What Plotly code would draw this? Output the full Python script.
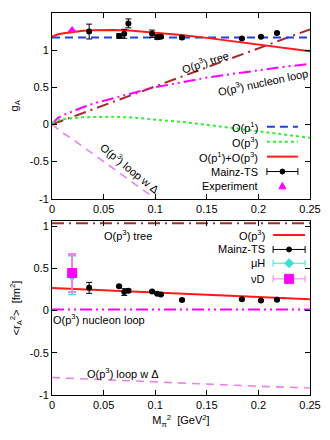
import plotly.graph_objects as go
from plotly.subplots import make_subplots

# ---- data ----
# top panel: g_A vs M_pi^2
x_curve = [0, 0.005, 0.01, 0.02, 0.03, 0.04, 0.05, 0.06, 0.075, 0.1, 0.125, 0.15, 0.175, 0.2, 0.225, 0.25]
ga_p1 = [1.17] * len(x_curve)
ga_p3 = [0.02, 0.055, 0.07, 0.085, 0.095, 0.1, 0.103, 0.102, 0.095, 0.07, 0.035, -0.005, -0.05, -0.095, -0.14, -0.18]
ga_total = [1.18, 1.21, 1.225, 1.245, 1.26, 1.267, 1.27, 1.27, 1.265, 1.24, 1.205, 1.165, 1.12, 1.075, 1.03, 0.985]
ga_tree = [0, 0.026, 0.051, 0.102, 0.154, 0.205, 0.256, 0.307, 0.384, 0.512, 0.64, 0.768, 0.896, 1.024, 1.152, 1.28]
ga_nloop = [0, 0.08, 0.12, 0.18, 0.23, 0.28, 0.32, 0.36, 0.41, 0.5, 0.57, 0.63, 0.68, 0.73, 0.775, 0.815]
x_delta = [0, 0.005, 0.01, 0.02, 0.03, 0.04, 0.05, 0.06, 0.075, 0.1, 0.11]
ga_delta = [0, -0.06, -0.11, -0.2, -0.3, -0.4, -0.5, -0.61, -0.76, -1.0, -1.1]

x_lat = [0.036, 0.065, 0.07, 0.074, 0.097, 0.102, 0.1055, 0.126, 0.184, 0.2025, 0.218]
ga_lat = [1.25, 1.19, 1.22, 1.36, 1.22, 1.175, 1.18, 1.17, 1.155, 1.18, 1.23]
ga_lat_err = [0.1, 0.03, 0.06, 0.06, 0.05, 0.03, 0.02, 0.02, 0.01, 0.01, 0.01]
x_phys = [0.0195]
ga_exp = [1.272]

# bottom panel: <r_A^2> vs M_pi^2
x_r2 = [0, 0.05, 0.1, 0.15, 0.2, 0.25]
r2_tree = [1.035] * len(x_r2)
r2_total = [0.267, 0.24, 0.214, 0.188, 0.161, 0.135]
r2_nloop = [0.012] * len(x_r2)
r2_delta = [-0.793, -0.82, -0.845, -0.87, -0.896, -0.917]
r2_lat = [0.27, 0.29, 0.22, 0.235, 0.226, 0.2, 0.19, 0.127, 0.135, 0.12, 0.13]
r2_lat_err = [0.065, 0.01, 0.04, 0.02, 0.01, 0.01, 0.01, 0.01, 0.01, 0.01, 0.01]
r2_muh, r2_muh_err = [0.42], [0.23]
r2_nud, r2_nud_err = [0.445], [0.225]

x_ticks = [0, 0.05, 0.1, 0.15, 0.2, 0.25]
x_ticktext = ["0", "0.05", "0.1", "0.15", "0.2", "0.25"]
y_ticks = [-1, -0.5, 0, 0.5, 1, 1.5]
y_ticktext = ["-1", "-0.5", "0", "0.5", "1", "1.5"]

BLUE = "#2040e0"
GREEN = "#33ee33"
RED = "#ff1a1a"
BROWN = "#a52a2a"
MAG = "#ff00ff"
PINK = "#ee82ee"
TURQ = "#40e0d0"
FONT = "Liberation Sans, Arial, sans-serif"

fig = make_subplots(rows=2, cols=1, vertical_spacing=0.06)

def line(x, y, color, dash, width=2, row=1):
    fig.add_trace(go.Scatter(x=x, y=y, mode="lines", line=dict(color=color, dash=dash, width=width),
                             showlegend=False), row=row, col=1)

# top panel
line(x_delta, ga_delta, PINK, "8px,6px", 1.6)
line(x_curve, ga_tree, BROWN, "12px,5px,2px,5px")
line(x_curve, ga_nloop, MAG, "12px,4px,2px,4px,2px,4px")
line(x_curve, ga_p3, GREEN, "3px,3px")
line(x_curve, ga_p1, BLUE, "8px,5px")
line(x_curve, ga_total, RED, "solid")
fig.add_trace(go.Scatter(x=x_lat, y=ga_lat, mode="markers",
                         marker=dict(color="black", size=6),
                         error_y=dict(array=ga_lat_err, color="black", thickness=1, width=3),
                         showlegend=False), row=1, col=1)
fig.add_trace(go.Scatter(x=x_phys, y=ga_exp, mode="markers",
                         marker=dict(color=MAG, size=8, symbol="triangle-up"),
                         showlegend=False), row=1, col=1)

# bottom panel
line(x_r2, r2_tree, BROWN, "12px,5px,2px,5px", row=2)
line(x_r2, r2_nloop, MAG, "12px,4px,2px,4px,2px,4px", row=2)
line(x_r2, r2_delta, PINK, "8px,6px", 1.6, row=2)
line(x_r2, r2_total, RED, "solid", row=2)
fig.add_trace(go.Scatter(x=x_lat, y=r2_lat, mode="markers",
                         marker=dict(color="black", size=6),
                         error_y=dict(array=r2_lat_err, color="black", thickness=1, width=3),
                         showlegend=False), row=2, col=1)
fig.add_trace(go.Scatter(x=x_phys, y=r2_muh, mode="markers",
                         marker=dict(color=TURQ, size=9, symbol="diamond"),
                         error_y=dict(array=r2_muh_err, color=TURQ, thickness=1.5, width=4),
                         showlegend=False), row=2, col=1)
fig.add_trace(go.Scatter(x=x_phys, y=r2_nud, mode="markers",
                         marker=dict(color=MAG, size=10, symbol="square"),
                         error_y=dict(array=r2_nud_err, color=PINK, thickness=2, width=4),
                         showlegend=False), row=2, col=1)

axis_style = dict(showline=True, linecolor="black", linewidth=1, mirror="ticks",
                  ticks="inside", ticklen=5, tickcolor="black", showgrid=False, zeroline=False,
                  automargin=False, tickfont=dict(size=11, color="black"))
fig.update_xaxes(range=[0, 0.25], tickvals=x_ticks, ticktext=x_ticktext, tickangle=0, **axis_style)
fig.update_yaxes(tickvals=y_ticks, ticktext=y_ticktext, **axis_style)
fig.update_yaxes(range=[-1, 1.5], row=1, col=1,
                 title=dict(text="g<sub>A</sub>", standoff=14, font=dict(size=11)))
fig.update_yaxes(range=[-1, 1.06], row=2, col=1,
                 title=dict(text="<r<sub>A</sub><sup>2</sup>>  [fm<sup>2</sup>]", standoff=14, font=dict(size=11)))
fig.update_xaxes(row=2, col=1, title=dict(text="M<sub>π</sub><sup>2</sup>  [GeV<sup>2</sup>]", standoff=6,
                                          font=dict(size=11)))

# page body has an 8px margin, so the figure is a bit smaller than the window
fig.update_layout(
    width=322, height=432,
    margin=dict(l=44, r=20, t=5, b=45),
    plot_bgcolor="white", paper_bgcolor="white",
    font=dict(family=FONT, size=11, color="black"),
)
fig.layout.yaxis.domain = [0.514, 1.0]
fig.layout.yaxis2.domain = [0.0, 0.455]

# curve labels
def label(text, x, y, angle, xref="x", yref="y"):
    fig.add_annotation(text=text, x=x, y=y, xref=xref, yref=yref, textangle=angle,
                       showarrow=False, font=dict(size=11))

label("O(p<sup>3</sup>) tree", 0.148, 0.84, -18)
label("O(p<sup>3</sup>) nucleon loop", 0.204, 0.57, -12)
label("O(p<sup>3</sup>) loop w Δ", 0.0755, -0.59, 39)
label("O(p<sup>3</sup>) tree", 0.0735, 0.90, 0, "x2", "y2")
label("O(p<sup>3</sup>) nucleon loop", 0.046, -0.10, 0, "x2", "y2")
label("O(p<sup>3</sup>) loop w Δ", 0.069, -0.74, 0, "x2", "y2")

# gnuplot-style keys (text on the left, sample on the right)
def key_text(text, xr, y):
    fig.add_annotation(text=text, x=xr, y=y, xref="paper", yref="paper", xanchor="right",
                       yanchor="middle", showarrow=False, font=dict(size=11))

def key_line(x0, x1, y, color, dash, width=2):
    fig.add_shape(type="line", x0=x0, x1=x1, y0=y, y1=y, xref="paper", yref="paper",
                  line=dict(color=color, dash=dash, width=width))

def key_mark(xc, y, color, kind, r):
    common = dict(xref="paper", yref="paper", xsizemode="pixel", ysizemode="pixel",
                  xanchor=xc, yanchor=y, fillcolor=color, line=dict(color=color, width=1))
    if kind == "circle":
        fig.add_shape(type="circle", x0=-r, x1=r, y0=-r, y1=r, **common)
    elif kind == "square":
        fig.add_shape(type="rect", x0=-r, x1=r, y0=-r, y1=r, **common)
    elif kind == "diamond":
        fig.add_shape(type="path", path=f"M 0,{r} L {r},0 L 0,{-r} L {-r},0 Z", **common)
    else:
        fig.add_shape(type="path", path=f"M {-r},{-r * 0.8} L {r},{-r * 0.8} L 0,{r} Z", **common)

def key_err(x0, x1, y, color, mcolor, kind, r):
    key_line(x0, x1, y, color, "solid", 1)
    for xx in (x0, x1):
        fig.add_shape(type="line", x0=xx, x1=xx, y0=y - 0.009, y1=y + 0.009, xref="paper", yref="paper",
                      line=dict(color=color, width=1))
    key_mark((x0 + x1) / 2, y, mcolor, kind, r)

tx, s0, s1 = 0.806, 0.833, 0.953
key_text("O(p<sup>1</sup>)", tx, 0.702)
key_line(s0, s1, 0.702, BLUE, "8px,5px")
key_text("O(p<sup>3</sup>)", tx, 0.663)
key_line(s0, s1, 0.663, GREEN, "3px,3px")
key_text("O(p<sup>1</sup>)+O(p<sup>3</sup>)", tx, 0.624)
key_line(s0, s1, 0.624, RED, "solid")
key_text("Mainz-TS", tx, 0.585)
key_err(s0, s1, 0.585, "black", "black", "circle", 2.5)
key_text("Experiment", tx, 0.547)
key_mark((s0 + s1) / 2, 0.547, MAG, "triangle", 3.5)

tx, s0, s1 = 0.833, 0.857, 0.981
key_text("O(p<sup>3</sup>)", tx, 0.419)
key_line(s0, s1, 0.419, RED, "solid")
key_text("Mainz-TS", tx, 0.381)
key_err(s0, s1, 0.381, "black", "black", "circle", 2.5)
key_text("μH", tx, 0.345)
key_err(s0, s1, 0.345, TURQ, TURQ, "diamond", 4.5)
key_text("νD", tx, 0.304)
key_err(s0, s1, 0.304, PINK, MAG, "square", 4.5)

fig.write_html("out.html")
